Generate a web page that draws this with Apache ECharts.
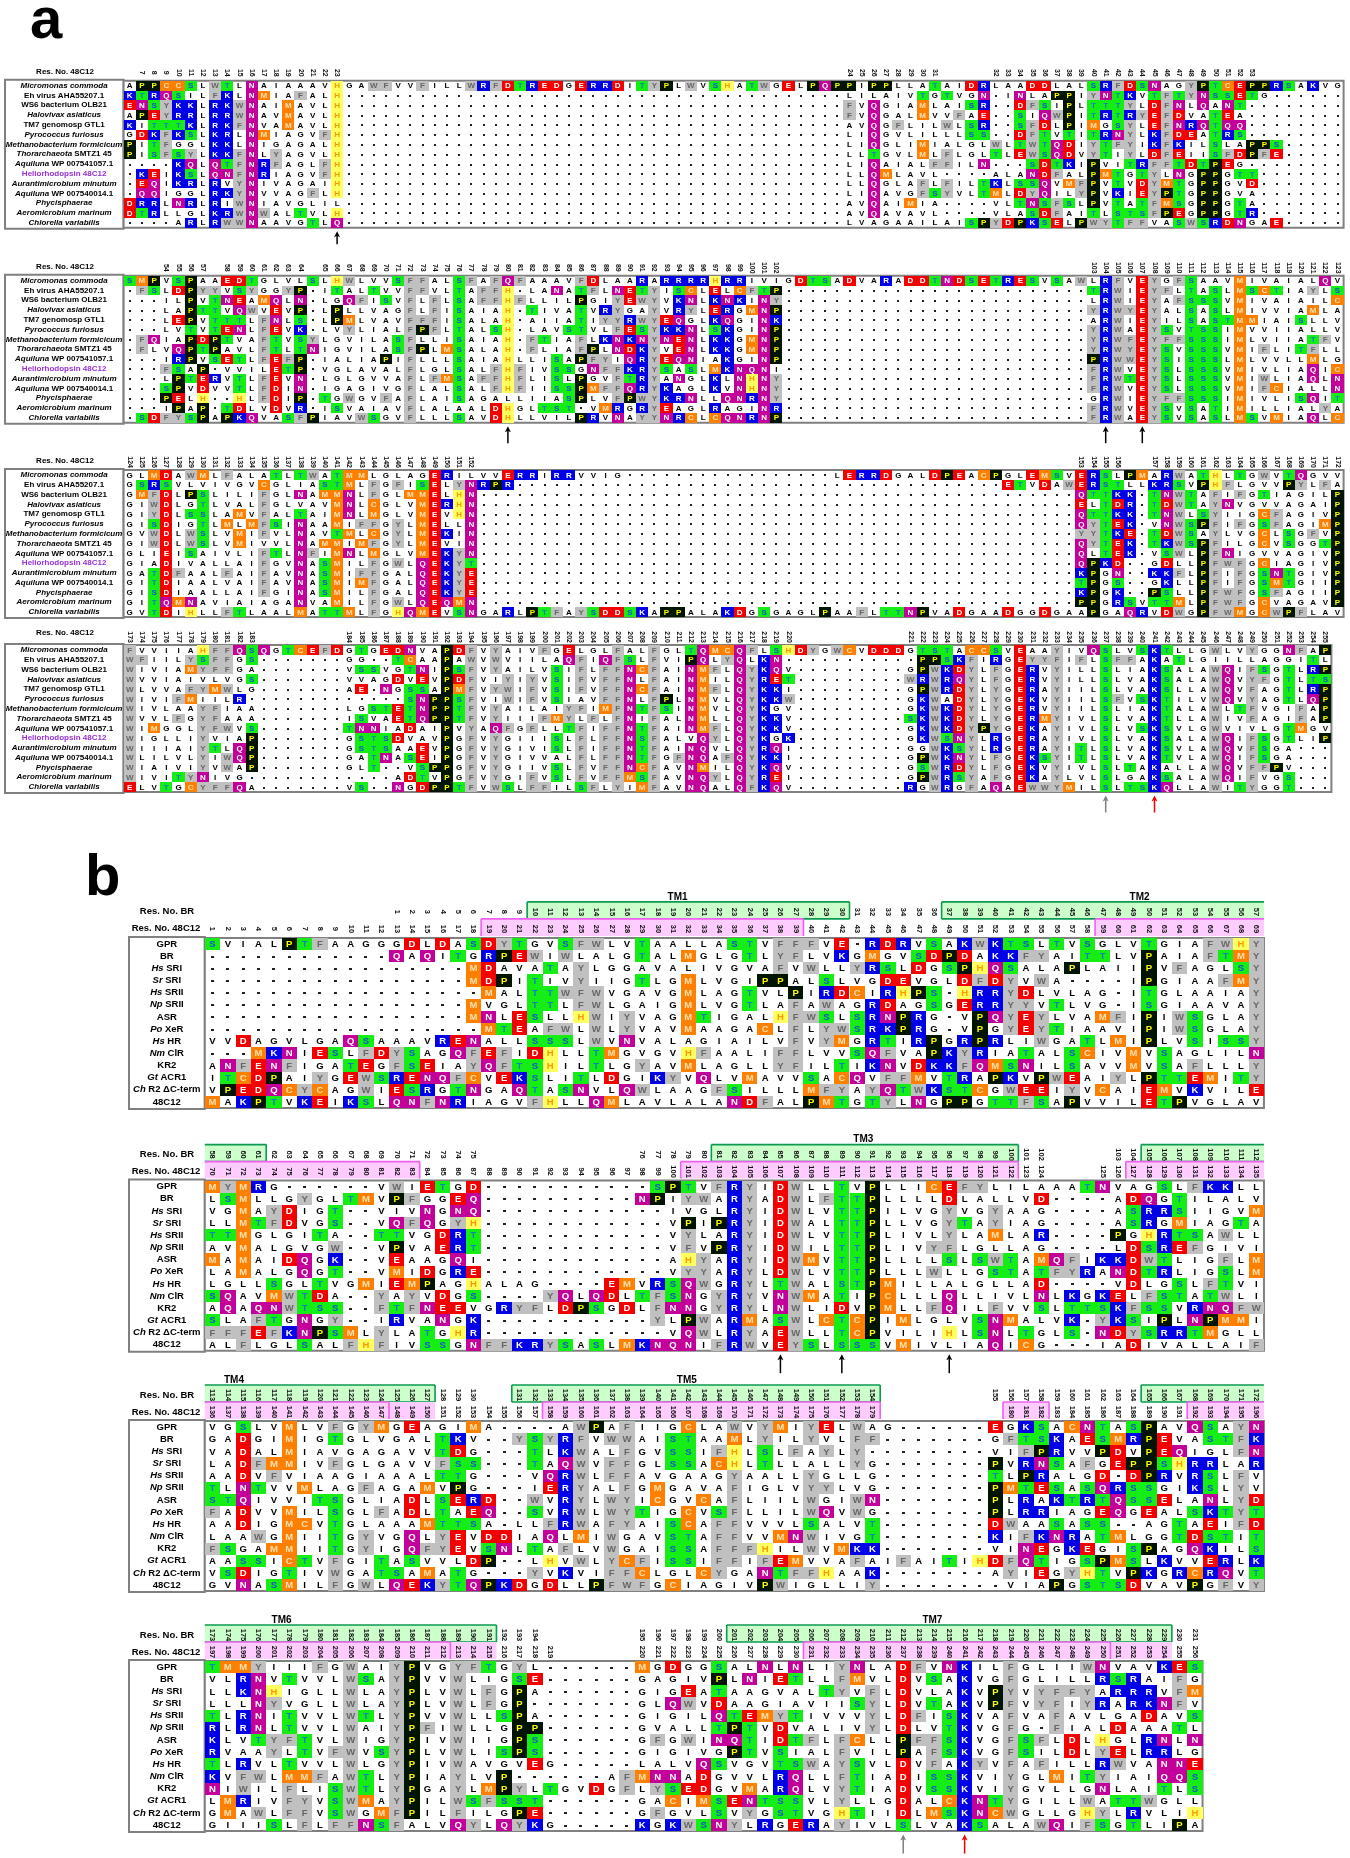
<!DOCTYPE html>
<html><head><meta charset="utf-8">
<style>html,body{margin:0;padding:0;background:#fff}#c{width:1350px;height:1858px}#c canvas{filter:blur(0.35px)}</style>
<script src="https://cdn.jsdelivr.net/npm/echarts@6/dist/echarts.min.js"></script>
</head><body><div id="c"></div>
<script>
// ---- row names
const namesA = ['Micromonas commoda','Eh virus AHA55207.1','WS6 bacterium OLB21','Halovivax asiaticus','TM7 genomosp GTL1','Pyrococcus furiosus','Methanobacterium formicicum','Thorarchaeota SMTZ1 45','Aquiluna WP 007541057.1','Heliorhodopsin 48C12','Aurantimicrobium minutum','Aquiluna WP 007540014.1','Phycisphaerae','Aeromicrobium marinum','Chlorella variabilis'];
const namesB = ['GPR','BR','Hs SRI','Sr SRI','Hs SRII','Np SRII','ASR','Po XeR','Hs HR','Nm ClR','KR2','Gt ACR1','Ch R2 ΔC-term','48C12'];
const italicNames = ['Micromonas commoda','Halovivax asiaticus','Pyrococcus furiosus','Methanobacterium formicicum','Thorarchaeota','Aquiluna','Aurantimicrobium minutum','Phycisphaerae','Aeromicrobium marinum','Chlorella variabilis','Hs','Sr','Np','Po','Nm','Gt','Ch'];

// ---- aligned sequences; a number stands for that many gap cells
const seqA1 = [
"APPCCSLWTLNAIAAAVHGAWFVVFILLWRFDTREDGERRDITYPLWVSHATWGELPQPPIPPLLATAIDRLAADDLALSRFDSNAGYPTCEPPRSAKVG",
"KTRQSILFKLNMIAFALH41LILAIVTGTVGN.INLAPPIYNTKVTFTYNSSETG6",
"ENSYKKLRKWNAIMAVLH41FVQGIAMLAISR2DFSIPLTTTYLDFNLQANT8",
"APEYRRLRRWNAVMAVLH41FVQGALMVVFAE2SIQWPITRTRYEFDVATEA8",
"KITTTKLRKFNVAMAVLH41AVQGFLILWLSR2SFDLPIMGSYLEFNRQTQQ8",
"GDKFKSLKRLNMIAGVFH41LIQGVLILLLSS2DFTVTITRNYLKFDEATRS8",
"PITFGGLKKLNIGAGALH41LIQGLIMIALGLWLTWTQDIYTFYIKFKILSLAPPS5",
"PISFSYLKKFNLYAGVLH41LLTGVLMLFLGLTLEWSQDVYTIYLDFEIISFDPFE5",
"4KQLQTFNRFAGLFH41LIQAIALFFILN3SDTKIPVITRFFTDTPEG8",
".KEIKSLQNFNRIAGVFH41LLQMLAVL4ALANDFALPMTGTYLNGPPGTT7",
".EQIKRLRVYNIVAGAIH41LLQGLAFLFILTKLSSQVMFPVTVDYMTGPPGVD7",
".QQIGGLRKYNVVAGFLH41LIQAVGFSYVLTMLDYQILYPVKIEYPTGPPGVA7",
"DRRLNRLRIWNIAVGLIL41AVQAIMIA4VLTNSFSLPVTATFMSGPPGTA7",
"DTRLLGLKRWNWALTVLH41AVQAVAVL4VLASDFAITLSTSFPEGPPGTR7",
"4ARLRWWNAAVGTLQ41LVAGAAILAISPYDPKSELPWYTFFVASWSRDNGAE5"];
const seqA2 = [
"SMPVSPAAEDTGLVLSLHWLVVSFFALSFAFQFAAAVFDLAARARRRRHRRIVIGDTSADVARADDTNDSETRESVSAWLRFVEYGFSAAVMIVAIALQV",
".FSLDPYYVSYGGYP.ITALTVVFFVLTAFFH.LANATFLNETYISCLELCFTP25TRWIEYFLTASLMSCTIAYLS",
"3ILPVTNEAMQLN.LGQFISVFLFLSAFFHFLLILPGIYEWYVKNLKNKINY25LRWIEYAFSSSVMIVAIAILC",
"3LAPTTVQWVEVP.LPLLVAGFLFISAIAH.TIVATVRYGAYVRYLERGMNP25YRWYEYALSASLMIVVIAMLA",
"3LEPVTTTLFNLS.LPMLVAVFFFISALAH.AIIATIYYRWYEQGLKQGINK25ARWIEYILSASTMMIAISLLV",
"3LVTVTENLFEVK.LVYLIALFPFLTALSH.LAVSTVLFESYKKNLSKGINP25YRWAEYSVTSSIMVVIIALLV",
".FQIAPDPTVAFTVSYLGVILASFLLISAIAH.FTIAFLKNKNYNENLKKGMNP25YRWFEYFFSSSIMLVIIATFV",
".FLVQPTPAVLFTLTNIGVILASFPLMSALAH.FLIAFPLNDKYVENLKKGMNP25YRWYEYSVSSSVMIFLITFLL",
"3IRPVSETLFEFP.IALIAPIFLLLSAIAHLLISAPFYIQRYEQNIAKGINP25PRWWEYSISSSLMLVVLLMLG",
"3FSAP.VVILETP.VGLAVALFLGLSALFHFIVSSGNFFKRYSASLMKNQNI25FRWVEYSLSSSVMIVLIAQIC",
"3LPTERVTLFEVN.LGLGVVAFLFMSAFFHFLISLPGVFTRYANGLKLNHNY25FRWTEYSLSSSVMIWLIAQLN",
"3SPVDVVTLFDIN.IGAGIVGFLALSALFHFIISSPMFFQRYKAGLKVNHNY25FRWVEYSLSSSVMIFCIALLN",
"3PELH2HLFDIP.TGWGVFAFLAISAGALLIIASPLVFPWYKRNLLQNRNY25GRWIEYFFSSSIMIVLISQIT",
"3IPAP.TDLVDVR.ISVAIAVFLALAALDHGLTST.VMRGRYEAGLRAGINR25FRWVEYSVSATIMILLIALYA",
".SDFYSPAPKQVASFPIAVWSGVFLLLSAVDHLLVILPRVNAYYNRCLCQNRNP25FRWAEYSVSASLMSVMIAQLC"];
const seqA3 = [
"GLMDAWMLFALATLTWATMMLGLAGERILVVERRIRRVVIG17LERRDGALDPEACPGLEMSVERSLPMARWATHLTGWVTQGVV",
"GSRSVLVIVGVCGLIASTMLFGFISELYNRPR40ETVDAWERSTLLKRSVPHFLGVVPYLFA",
"GMFDLPSLILIFGLNAMMNLFGLMMELHN49QTTKK.TNWTAFIFGTIAGILP",
"GIWDLGTLVALFGLVAVMNLCGLVMERHN49ELTDR.TDWTAYNVGVVAGAIP",
"GIYDLSSLAMVFALTAIMNLMGLVMEVHN49QTTKK.TNWLSYIIGCFAGIVP",
"GISDIGTLMLMFSINAAMIFFGYLMELLN49QYTEK.VNWSPFIFGSFAGIMP",
"GVWDLWSLVMIFVLNAVTMLCGYLMEKIN49YYTKE.TDWSAYLVGCLSGFVP",
"GIWDLWSLVMIVVLNAMMIMFGYLMEVIN49QYTEK.TKWSPFILGCVSGGTP",
"GLIEISAIVLIFTLNFIMNLMGLVMEKYN49QLTEK.VSWLPFNIGVVAGIVP",
"GIADIVALLAIFGVNASMILFGWLQEKYT49QPKD2GDLLPFWFGCIAGIVP",
"GATDFAALFAIFAVNASMIFFGALQEKYE49KPGN2KKFLPFIFGSNTGIVP",
"GITDIAALVAIFAVNASMIMFGALQEKYE49TPGS2GKLLPFIFGSMTGIIP",
"GISDIAALLAIFGINASMILFGALQEKYE49KPGK2PSLLPFWFGSFAGIIP",
"GITQMNAVIAIAGANVAMILFGWLQEQMN49PPGRSVTTMLPFWFGCVAGAVP",
"GVTDIHLLFTLAALMATTMLFGHQMEVSNGARLPTFAYSDDSKAPPALAKDGSGAGLPAAFLTTNPVADGAADGGDGAAPGAQRVDWGPFWMGCWPFLAV"];
const seqA4 = [
"FVVIIAHFFQSQGTCEFDGTGEDNVAPDFVYAIVFGELGLFALFGLTQMCQFLSHDYGWCVDDDGTSTACCSVEAAYIVQSLVSKTLLGWLVYGGNFAP",
"WFIILYSFFGS7GG2TCAAPAWVWVIILAQFIQFSLFVIPQLYQLKN11PPSKFIRGEYYFIFLSFFAKATLGIILLAGGITL",
"WIVIAMYFFGA7VSSVGTNIPSFVYAILVSIFLFFNCFAINMFLQYKQV9GPWKDYLFGERVYILLSLIAKSALAWQIFSGTLRP",
"WVVIAIVLVGS7VVAGDVEVPDFVIYIYVSIFVFFNLFAINMILQYRET9WRWRQYLFGERVYILLSLVAKSALAWQVYFGTLTS",
"WLVVAFYMWLG7AE.NGSSAPMFVYWIFVSIFVFFNCFAINMFLQYKKI9GPWRDYLYGERAYIILSLVAKSLLAWQVFAGTLRP",
"WIVIFMIILR13SNPPSFVIWIFVSIAVFFNLFPLNMVLQYKKW9GKWADYLYGEKVYIILSFVSKTILVWQVYAGTLQP",
"WIVLAAYFIAA7LGSTETNPPTFVYAILAIYFIMFNTFSINMVLQYKGV9GKWKDYLYGERVYIILSLIAKTALAWLTFVGIFAP",
"WVVLFGYFAAA7ISVAETQPPTFVYIIIFMYLFLFNIFALNMLLQYKKV9SKWKDYLYGERMYIVLSLVAKTLLAWIVFAGIFAP",
"WIMGGLYFWVS7TNNIADAIPVYAQFGFLLTFIFFNTFAINMFLQYKKV9GKWKDYPYGEKAYIVLSLVSKSVLGWVIVLGTMGV",
"WIGLLIYVIAP7GSTSDVAVPGFVYGIIISLFLFFNSFALVQYLQYKGK9GKWSNYLRGERAYIVLSLVAKSALAWQIFSGTLIP",
"WIIIAIYTLQP7GSTSAAEVPGFVYGIVISLFIFFNTFAINQVLQYRQI9GGWKSYLRGERAYITLSLVAKSVLAWQVFSGA3",
"WLILVLYIWQP7GATNASEIPGFVYGIVVALFLFFNTFGFNQAFQYKKI9GPWKNYLFGEKSYITLSLVAKTVLAWQIFSGA3",
"WIAIVIYVWAP7GLT2VSPPGFVYGIIVSLFVFFNCFAVNMILQYKQV9GSWRDYLFGEKVYIVLSLTAKALLAWQVFFPV3",
"WIVITYNIVG12ADTVPGFVYGIFVSLFVFFMSFAVNQYLQYREI9GPWRSYAFGEKAYLVLSLGAKSALAWQIFVGS3",
"ELVTGCYFFQA7VS2NGDPPTFVWSLFFILSFLYIMFAVNQALQFKQV9RGWRGFAQAEWWYMILSLTSKQLLAWITYGGT3"];
const seqB1 = [
"SVIALPTFAAGGGDLDASDYTGVSFWLVTAALLASTVFFFVE.RDRVSAKWKTSLTVSGLVTGIAFWHY",
"12QAQITGRPEWIWLALGTALMGLGTLYFLVKGMGVSDPDAKKFYAITTLVPAIAFTMY",
"17MDAVATAYLGGAVALIVGVAFVWLLYRSLDGSPHQSALAPLAIIPVFAGLSY",
"17MDPITIVYIIGTLGMLVGIPPALSLVGDEVGLDFDYVWA4IPGIAAFMY",
"18MALTTWFWVGAVGMLAGTVLPIRDCIRHPS.HRRYDLVLAG.ITGLAAIAY",
"17MVGLTTLFWLGAIGMLVGTLAFAWAGRDAGSGERRYYVTLVG.ISGIAAVAY",
"17MNLESLLHWIYVAGMTIGALHFWSLSRNPRG.VPQYEYLVAMFIPIWSGLAY",
"18MTEAFWLWLYVAVMAAGACLFLYWSRKPRG.VPGYEYTIAAVIPIWSGLAY",
"VVDAGVLGAQSAAAVRENALLSSSLWVNVALAGIAILVFVYMGRTIRPGRPRLIWGATLMIPLVSISSY",
"3MKNIESLFDYSAGQFEFIDHLLTMGVGVHFAALIFFLVVSQFVAPKYRIATALSCIVMVSAGLILN",
"ANFENFIGATEGFSEIAYQFTSHILTLGYAVMLAGLLYFILTIKNVDKKFQMSNILSAVVMVSAFLLLY",
"ITCDPAIYGEWSRENQFCVEKSLITLDGIKYVQLVMAVVSACQVFFMVTRAPKVPWEAIYLPTTEMITY",
"VPEDQCYCAGWIESRGTNGAQTASNVLQWLAAGFSILLLMFYAYQTWKSTCGWEEIYVCAIEMVKVILE",
"MAKPTVKEIKSLQNFNRIAGVFHLLQMLAVLALANDFALPMTGTYLNGPPGTTFSAPVVILETPVGLAV"];
const seqB2 = [
"MYMRG6VWIETGD11SPTVFRYIDWLLTVPLLICEFYLILAAATNVAGSLFKKLL",
"LSMLLGYGLTMVPFGGEQ10NPIYWARYADWLFTTPLLLLDLALLVD4ADQGTILALV",
"VGMAYDIGT2VIVNGNQ12IVGLRYIDWLVTTPILVGYVGYAAG4ASRRSIIGVM",
"LLMTFDVGS2VQFQGYH12VPIPRYIDWALTTPLLVGYTAYIAG4ASRGMIAGTA",
"TTMGLGITA2TTVGDRT12VYLARYIDWLVTTPLIVLYLAMLAR4PGHRTSAWLL",
"AVMALGVGW2VPVAERT12VFVPRYIDWILTTPLIVYFLGLLAG4LDSREFGIVI",
"MAMAIDQGK2VEAAGQI12AHYARYIDWMVTTPLLLLSLSWTAMQFIKKDWTLIGFLM",
"LAMALGQGT2VMIDGRE12VYYARYLDWLVTTPLLLWLLGSTATFYRANDTRLIGSLM",
"LGLLSGLTVGMIEMPAGHALAG4EMVRSQWGRYLTWALSTPMILLALGLLAD4VDLGSLFTVI",
"SQAVMWTDA2YAYVDGS4YQLQDLTFSNGYRYVNWMATIPCLLLQLLIVLNLKGKELFSTATWLI",
"AQAQNWTSS2FTFNEEVGRYFLDPSGDLFNNGYRYLNWLIDVPMLLFQILFVVSLTTSKFSSVRNQFW",
"SLAFTGNGY2IRVANGK11YLPWARMASWLCTCPIMLGLVSNMALVK.YKSIPLNPMMI",
"FFFEFKNPSMLYLATGHR12VQWLRYAEWLLTCPVILIHLSNLTGLS.NDYSRRTMGLL",
"ALFLGLSALFHFIVSSGNFFKRYSASLMKNQNIFRWVEYSLSSSVMIVLIAQICG3IADIVALLAIF"];
const seqB3 = [
"VGSLVMLVFGYMGEAGIMA4AWPAFIIGCLAWVYMIYELWAG6EGKSACNTASPAVQSAYN",
"GADGIMIGTGLVGALTKV2YSYRFVWWAISTAAMLYILYVLFF7GFTSKAESMRPEVASTFK",
"VADALMIAVGAGAVVTDG3TLKWALFGVSSIFHLSLFAYLY8VIFPRVVPDVPEQIGLFN",
"LADFMMIVFGLGAVVFSS3TAQWVFFGLSSACHLTLLALLYG7PVRNSAFGEPPSHRRLAR",
"AADVFVIAAGIAAALTTG3VQRWLFFAVGAAGYAALLYGLLG7TLPRALGD.DPRVRSLFV",
"TLNTVVMLAGFAGAMVPG3IERYALFGMGAVAFIGLVYYLVG7PMTESASQRSSGIKSLYV",
"STQIVVITSGLIADLSERD2WVRYLWYICGVCAFLIILWGIWN7PLRAKTRTQSSELANLYD",
"FADVVMILSGLFADLTAEQ2SVRWLWYTIGCVSFLLILWQVWG7PLRRIAGEQGEALSKTYT",
"AADIGMCVTGLAAAMTTSA.LLFRWAFYAISCAFFVVVLSALVT7DWAASASS2AGTAEIFD",
"LAAWGMIITGYVGQLYEVDDIAQLMIWGAVSTAFFVVMNWIVGT7KIFKNRATMLGGTDSTIT",
"FSGAMMIITGYIGQFYEVSNLTAFLVWGAISSAFFFHILWVMKK7VINEGKEGISPAGQKILS",
"AASSICTVFGITASVVLDP2LHVWLYCFISSIFFIFEMVVAFAIFAITIHDFQTIGSPMSLKVVERLK",
"VSDIGTIVWGATSAMATG3YVKVIFFCLGLCYGANTFFHAAK7AYIEGYHTVPKGRCRQVT",
"GVNASMILFGWLQEKYTQPKDGDLLPFWFGCIAGIVPWIGLLIY8VIAPGSTSDVAVPGFVY"];
const seqB4 = [
"TMMYIIIFGWAIYPVGYFTGYL6MGDGGSALNLNLIYNLADFVNKILFGLIIWNVAVKES",
"VLRNVTVVLWSAYPVVWLIGSE6GAGIVPLNIETLLFMVLDVSAKVGFGLILLRSRAIFG",
"LLKNHIGLLWLAYPLVWLFGPA6GIGEATAAGVALTYVFLDVLAKVPYVYFFYARRRVFM",
"LLLNYVGLLWLAYPLVWLFGP7GLQWVDAAGIAVIISYLDVTAKVPFVYFIYRARKNFV",
"TLRNITVVLWTLYPVVWLLSPA6GIGILQTEMYTIVVVYLDFISKVAFVAFAVLGADAVS",
"RLRNLTVVLWAIYPFIWLLGPP6GVALLTPTVDVALIVYLDLVTKVGFG.FIALDAAATL",
"KLVTYFTVLWIGYPIVWIIGPS6GFGWINQTIDTFLFCLLPFFSKVGFSFLDLHGLRNLN",
"RVAAYLTVFWVSYPLVWLISPS6GIGIVGPTVSIALFVILPAFSKVGFSILDLYELRRLG",
"TLRVLTVVLWLGYPIVWAVGVEG5LALVQSVGVTSWAYSVLDVFAKYVFAFILLRWVANNE",
"KVFWLMMFAWTLYPIAYLVP6AFMNNADGVVLRQLLFTIADISSKVIYGLMITYIAIQQS",
"NIWILFLISWTLYPGAYLMPYLTGVDGFLYSEDGVMARQLVYTIADVSSKVIYGVLLGNLAITLS",
"LMRIVFYVSWMAYPILWSFSST6GACIMSENTSSVLYLLGDALCKNTYGILLWATTWGLL",
"GMAWLFFVSWGMFPILFILGPE6GFGVLSVYGSTVGHTIIDLMSKNCWGLLGHYLRVLIH",
"GIIISLFLFFNSFALVQYLQYKG5KGKWSNYLRGERAYIVLSLVAKSALAWQIFSGTLIPA"];

// ---- tick labels: runs of [first column, first number, last number]
const ticksA1 = [[2,7,23],[60,24,31],[72,32,53]];
const ticksA2 = [[4,54,57],[9,58,64],[17,65,102],[80,103,123]];
const ticksA3 = [[1,124,152],[79,153,156],[85,157,172]];
const ticksA4 = [[1,173,183],[19,184,220],[65,221,255]];
const ticksB1 = [[1,1,69]],               ticksB1BR = [[13,1,57]];
const ticksB2 = [[1,70,124],[59,125,135]], ticksB2BR = [[1,58,75],[29,76,102],[60,103,112]];
const ticksB3 = [[1,136,179],[53,180,196]], ticksB3BR = [[1,113,130],[21,131,154],[52,155,172]];
const ticksB4 = [[1,197,219],[29,220,256]], ticksB4BR = [[1,173,194],[29,195,231]];

// ---- TM ranges (columns) and arrows (columns)
const greenB1=[[22,42],[49,69]], pinkB1=[[19,39],[59,69]], pinkFillB1=[];
const greenB2=[[1,4],[34,53],[62,69]], pinkB2=[[1,14],[32,53],[61,69]], pinkFillB2=[];
const greenB3=[[1,15],[21,44],[62,69]], pinkB3=[[1,12],[23,44],[53,55],[65,69]], pinkFillB3=[[13,15]];
const greenB4=[[1,19],[35,63]], pinkB4=[[1,16],[40,59]], pinkFillB4=[[17,19],[60,63]];
const labelsB1=[[31.8,'TM1'],[61.9,'TM2']], labelsB2=[[43.9,'TM3']], labelsB3=[[2.9,'TM4'],[32.4,'TM5']], labelsB4=[[6,'TM6'],[48.4,'TM7']];
const arrowsA1=[[18,'#000']], arrowsA2=[[32,'#000'],[81,'#000'],[84,'#000']], arrowsA4=[[81,'#808080'],[85,'#f00000']];
const arrowsB2=[[38,'#000'],[42,'#000'],[49,'#000']], arrowsB4=[[46,'#808080'],[50,'#f00000']];

// ---- residue colours
const FONT='"Liberation Sans", Arial, sans-serif';
const residueStyle={
  D:['#f50000','#fff'],E:['#f50000','#fff'],
  R:['#0000e8','#fff'],K:['#0000e8','#fff'],
  N:['#c4009a','#fff'],Q:['#c4009a','#fff'],
  S:['#14ee14','#0a50d0'],T:['#14ee14','#0e7fb8'],
  H:['#ffff60','#ff9a00'],P:['#001400','#ffff00'],
  M:['#ff8000','#ffe0b0'],C:['#ff8000','#ffe0b0'],
  F:['#c0c0c0','#666'],W:['#c0c0c0','#666'],Y:['#c0c0c0','#666']
};

const decode=(s,n)=>s.replace(/\d+/g,m=>'.'.repeat(+m)).padEnd(n,'.');
const tickArray=(runs,n)=>{const t=new Array(n).fill('');runs.forEach(([c,a,b])=>{for(let v=a;v<=b;v++)t[c-1+v-a]=String(v);});return t;};

const grids=[],xAxes=[],yAxes=[],series=[],graphics=[];
function resLabel(text,x,y,size){graphics.push({type:'text',x,y,style:{text,fill:'#000',font:`bold ${size}px ${FONT}`,align:'center',verticalAlign:'middle'}});}

function block(o){
  const rowsS=o.seq.map(s=>decode(s,o.n));
  const gi=grids.length, w=o.w;
  grids.push({left:o.left,top:o.top,width:w*o.n,height:o.rowH*o.names.length,show:true,backgroundColor:'#fff',borderColor:'#808080',borderWidth:2,outerBoundsMode:'none',containLabel:false});
  const xa=(data,margin)=>({type:'category',gridIndex:gi,position:'top',data,z:6,axisLine:{show:false},axisTick:{show:false},splitLine:{show:false},
    axisLabel:{show:true,interval:0,rotate:90,align:'center',verticalAlign:'middle',margin,fontSize:o.tickSize,fontWeight:'bold',fontFamily:FONT,color:'#111',hideOverlap:false}});
  const xi=xAxes.length;
  xAxes.push(xa(tickArray(o.ticks,o.n),o.m1));
  if(o.ticksBR) xAxes.push(xa(tickArray(o.ticksBR,o.n),o.m2));
  const yi=yAxes.length;
  const rich={i:{fontStyle:'italic',fontWeight:'bold',fontSize:o.labelSize,fontFamily:FONT,color:'#000'},
              b:{fontWeight:'bold',fontSize:o.labelSize,fontFamily:FONT,color:'#000'},
              h:{fontWeight:'bold',fontSize:o.labelSize,fontFamily:FONT,color:'#9a30d8'}};
  yAxes.push({type:'category',gridIndex:gi,inverse:true,data:o.names,axisLine:{show:false},axisTick:{show:false},splitLine:{show:false},
    axisLabel:{interval:0,align:'center',verticalAlign:'middle',margin:o.labelMargin,rich,
      formatter:v=>{
        if(v.startsWith('Heliorhodopsin')) return `{h|${v}}`;
        const hit=italicNames.find(p=>v===p||v.startsWith(p+' '));
        if(!hit) return `{b|${v}}`;
        const rest=v.slice(hit.length);
        const gap=o.tight?rest.trim():rest;
        return `{i|${hit}}`+(gap?`{b|${(o.tight?' ':'')+gap}}`:'');
      }}});
  // label-column frame
  graphics.push({type:'rect',z:-1,shape:{x:o.boxLeft,y:o.top-1,width:o.left-o.boxLeft,height:o.rowH*o.names.length+2},style:{fill:'none',stroke:'#808080',lineWidth:2}});

  const cells=[];
  rowsS.forEach((r,y)=>{for(let x=0;x<o.n;x++)cells.push([x,y]);});
  series.push({type:'custom',xAxisIndex:xi,yAxisIndex:yi,coordinateSystem:'cartesian2d',silent:true,animation:false,progressive:0,z:3,clip:false,
    encode:{x:0,y:1},data:cells,
    renderItem:(p,api)=>{
      const x=api.value(0),y=api.value(1),ch=rowsS[y][x];
      const c=api.coord([x,y]),sz=api.size([1,1]);
      if(ch==='.') return {type:'rect',shape:{x:Math.round(c[0]-o.dotW/2),y:Math.round(c[1]-0.5),width:o.dotW,height:2},style:{fill:'#222'}};
      const st=residueStyle[ch]||['#fff','#000'];
      const kids=[];
      if(residueStyle[ch]){
        const x0=Math.round(c[0]-sz[0]/2),x1=Math.round(c[0]+sz[0]/2),y0=Math.round(c[1]-sz[1]/2),y1=Math.round(c[1]+sz[1]/2);
        kids.push({type:'rect',shape:{x:x0,y:y0,width:x1-x0,height:y1-y0},style:{fill:st[0]}});
      }
      kids.push({type:'text',x:c[0],y:c[1]+0.5,style:{text:ch,fill:st[1],fontSize:o.resSize,fontWeight:'bold',fontFamily:FONT,align:'center',verticalAlign:'middle'}});
      return {type:'group',children:kids};
    }});

  // overlay: TM bands, TM captions and arrows
  const items=[];
  (o.green||[]).forEach(b=>items.push({k:'g',b}));
  (o.pinkFill||[]).forEach(b=>items.push({k:'pf',b}));
  (o.pink||[]).forEach(b=>items.push({k:'p',b}));
  (o.tm||[]).forEach(t=>items.push({k:'t',t}));
  (o.arrows||[]).forEach(a=>items.push({k:'a',a}));
  if(items.length) series.push({type:'custom',xAxisIndex:xi,yAxisIndex:yi,coordinateSystem:'cartesian2d',silent:true,animation:false,progressive:0,z:1,clip:false,
    data:items.map((_,i)=>[0,0,i]),encode:{x:0,y:1},
    renderItem:(p,api)=>{
      const it=items[p.dataIndex];
      const c0=api.coord([0,0]),sz=api.size([1,1]);
      const gl=c0[0]-sz[0]/2,gt=c0[1]-sz[1]/2,gb=gt+sz[1]*o.names.length;
      const X=k=>gl+(k-1)*sz[0];
      if(it.k==='t') return {type:'text',x:X(it.t[0]),y:gt-41,style:{text:it.t[1],fill:'#000',fontSize:10,fontWeight:'bold',fontFamily:FONT,align:'center',verticalAlign:'middle'}};
      if(it.k==='a'){
        const x=X(it.a[0])+sz[0]/2,tip=gb+3.5,len=o.arrowLen,col=it.a[1];
        return {type:'group',children:[
          {type:'line',shape:{x1:x,y1:tip+3,x2:x,y2:tip+len},style:{stroke:col,lineWidth:1.5}},
          {type:'polygon',shape:{points:[[x,tip],[x-3,tip+6],[x,tip+4.5],[x+3,tip+6]]},style:{fill:col}}]};
      }
      const isG=it.k==='g';
      const [s,e]=it.b;
      const y0=isG?gt-36:gt-19,y1=isG?gt-19:gt-2;
      const x0=X(s),x1=X(e+1);
      const fill=isG?'#ccffcc':'#ffccff',stroke=isG?'#0a9a50':'#ee60ee';
      const kids=[{type:'rect',shape:{x:x0,y:y0,width:x1-x0,height:y1-y0},style:{fill}}];
      if(it.k==='pf') return {type:'group',children:kids};
      const ln=(a,b,c,d)=>({type:'line',shape:{x1:a,y1:b,x2:c,y2:d},style:{stroke,lineWidth:1.6}});
      kids.push(ln(x0,y0,x1,y0));
      if(isG) kids.push(ln(x0,y1,x1,y1));
      if(s>1) kids.push(ln(x0,y0,x0,y1));
      if(e<o.n) kids.push(ln(x1,y0,x1,y1));
      return {type:'group',children:kids};
    }});
}

const commonA={names:namesA,left:123.6,w:12.2,rowH:9.79,boxLeft:5,tickSize:7,m1:8,labelSize:8,labelMargin:59.5,resSize:8,dotW:2,tight:false};
block({...commonA,seq:seqA1,n:100,top:80.8,ticks:ticksA1,arrows:arrowsA1,arrowLen:13});
block({...commonA,seq:seqA2,n:100,top:275.8,ticks:ticksA2,arrows:arrowsA2,arrowLen:17});
block({...commonA,seq:seqA3,n:100,top:470.1,ticks:ticksA3});
block({...commonA,seq:seqA4,n:99,top:645.1,ticks:ticksA4,arrows:arrowsA4,arrowLen:17});

const commonB={names:namesB,left:204.8,w:15.35,rowH:12.15,boxLeft:129,tickSize:7.5,m1:9,m2:26,labelSize:9.5,labelMargin:38,resSize:9.5,dotW:3,tight:true};
block({...commonB,seq:seqB1,n:69,top:937.9,ticks:ticksB1,ticksBR:ticksB1BR,green:greenB1,pink:pinkB1,pinkFill:pinkFillB1,tm:labelsB1});
block({...commonB,seq:seqB2,n:69,top:1180.6,ticks:ticksB2,ticksBR:ticksB2BR,green:greenB2,pink:pinkB2,pinkFill:pinkFillB2,tm:labelsB2,arrows:arrowsB2,arrowLen:19});
block({...commonB,seq:seqB3,n:69,top:1421,ticks:ticksB3,ticksBR:ticksB3BR,green:greenB3,pink:pinkB3,pinkFill:pinkFillB3,tm:labelsB3});
block({...commonB,seq:seqB4,n:65,top:1661,ticks:ticksB4,ticksBR:ticksB4BR,green:greenB4,pink:pinkB4,pinkFill:pinkFillB4,tm:labelsB4,arrows:arrowsB4,arrowLen:19});

[[65,72],[65,267],[65,461],[65,633]].forEach(([x,y])=>resLabel('Res. No. 48C12',x,y,8));
[[911,928],[1154,1171],[1395,1412],[1635,1652]].forEach(([a,b])=>{resLabel('Res. No. BR',167,a,9.5);resLabel('Res. No. 48C12',166,b,9.5);});
graphics.push({type:'text',x:30,y:-7,style:{text:'a',fill:'#000',font:`bold 58px ${FONT}`,align:'left',verticalAlign:'top'}});
graphics.push({type:'text',x:85,y:850,style:{text:'b',fill:'#000',font:`bold 58px ${FONT}`,align:'left',verticalAlign:'top'}});

const chart=echarts.init(document.getElementById('c'),null,{renderer:'canvas',width:1350,height:1858});
chart.setOption({animation:false,backgroundColor:'#fff',grid:grids,xAxis:xAxes,yAxis:yAxes,series,graphic:{elements:graphics}});
</script></body></html>
